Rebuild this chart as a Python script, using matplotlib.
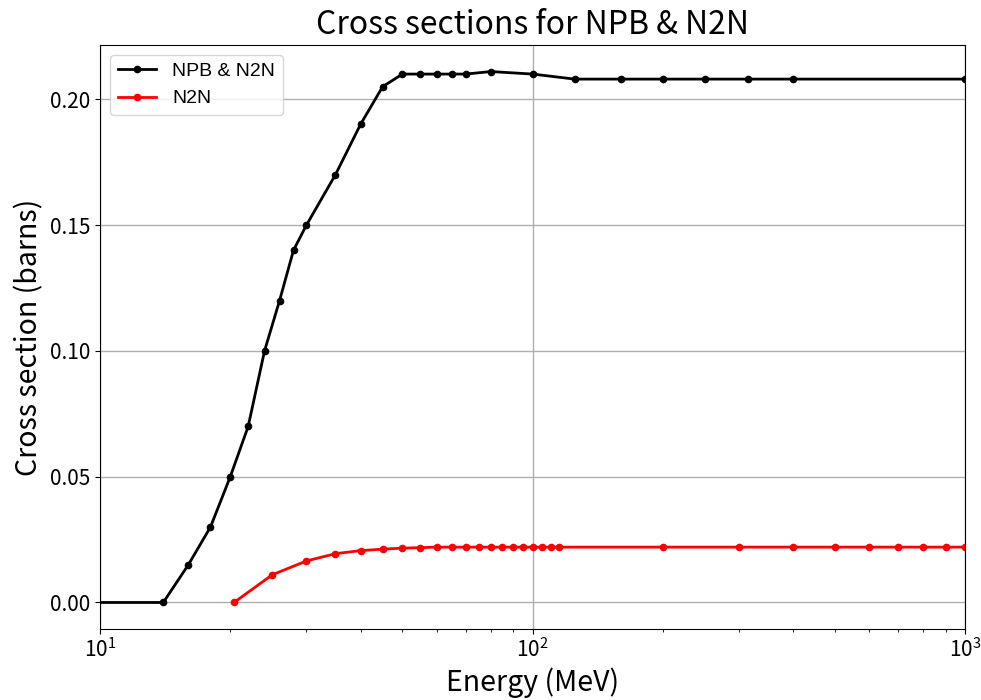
import matplotlib
matplotlib.use("Agg")
import matplotlib.pyplot as plt

plt.rcParams["font.family"] = ["Noto Sans CJK JP", "DejaVu Sans"]

# NPB & N2N total (MeV, barns)
npb_energy = [1, 14, 16, 18, 20, 22, 24, 26, 28, 30, 35, 40, 45, 50, 55, 60,
              65, 70, 80, 100, 125, 160, 200, 250, 315, 400, 1000]
npb_xs = [0.0, 0.0, 0.015, 0.03, 0.05, 0.07, 0.10, 0.12, 0.14, 0.15, 0.17,
          0.19, 0.205, 0.21, 0.21, 0.21, 0.21, 0.21, 0.211, 0.21, 0.208,
          0.208, 0.208, 0.208, 0.208, 0.208, 0.208]

# N2N only
n2n_energy = [20.4, 25, 30, 35, 40, 45, 50, 55, 60, 65, 70, 75, 80, 85, 90,
              95, 100, 105, 110, 115, 200, 300, 400, 500, 600, 700, 800, 900,
              1000]
n2n_xs = [0.0, 0.011, 0.0165, 0.0194, 0.0206, 0.0212, 0.0216, 0.0218, 0.022,
          0.022, 0.022, 0.022, 0.022, 0.022, 0.022, 0.022, 0.022, 0.022,
          0.022, 0.022, 0.022, 0.022, 0.022, 0.022, 0.022, 0.022, 0.022,
          0.022, 0.022]

fig = plt.figure(figsize=(9.81, 7.0), dpi=100)
ax = fig.add_axes([0.102, 0.1014, 0.882, 0.8343])

ax.plot(npb_energy, npb_xs, color="black", marker="o", markersize=4.5,
        linewidth=2, label="NPB & N2N")
ax.plot(n2n_energy, n2n_xs, color="red", marker="o", markersize=4.5,
        linewidth=2, label="N2N")

ax.set_xscale("log")
ax.set_xlim(10, 1000)
ax.grid(True, which="major", color="#b0b0b0", linewidth=1)
ax.tick_params(axis="both", labelsize=15)

ax.set_xlabel("Energy (MeV)", fontsize=20.5)
ax.set_ylabel("Cross section (barns)", fontsize=20.5)
ax.set_title("Cross sections for NPB & N2N", fontsize=23, pad=8)
ax.legend(loc="upper left", prop={"family": "Liberation Sans", "size": 14})

fig.savefig("out.png", dpi=100)
